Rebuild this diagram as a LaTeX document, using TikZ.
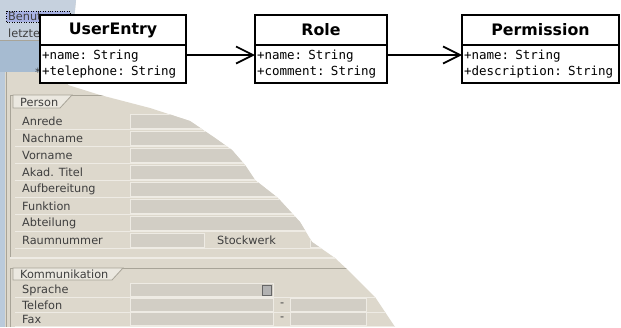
\documentclass[tikz,border=0pt]{standalone}
\usepackage{fontspec}
\usepackage{xcolor}
\usepackage{tikz}
\usetikzlibrary{arrows.meta, calc, positioning}
\newfontfamily\umlfont{DejaVu Sans}
\newfontfamily\attrfont{DejaVu Sans Mono}
\newfontfamily\formfont{DejaVu Sans}
\definecolor{formBeige}{HTML}{DDD8CC}
\definecolor{fieldGray}{HTML}{D2CEC5}
\definecolor{fieldEdge}{HTML}{EEEBE4}
\definecolor{panelLine}{HTML}{A8A498}
\definecolor{topBlue}{HTML}{C6D1DE}
\definecolor{midBlue}{HTML}{A6BBD1}
\definecolor{sideBlue}{HTML}{BACADB}
\definecolor{labelText}{HTML}{3E3E3E}
\tikzset{
  classname/.style={draw, line width=1.7pt, fill=white, minimum height=30pt,
    inner sep=0pt, outer sep=0pt, font=\umlfont\bfseries\fontsize{15.8}{18}\selectfont},
  classattr/.style={draw, line width=1.7pt, fill=white, minimum height=38pt,
    inner xsep=2pt, inner ysep=0pt, outer sep=0pt, align=left,
    font=\attrfont\fontsize{12.5}{15.5}\selectfont},
  assoc/.style={line width=1.7pt, -{Straight Barb[length=17pt, width=17pt, line width=1.7pt]}},
  formlabel/.style={anchor=west, inner sep=0pt, text=labelText, font=\formfont\fontsize{11.3}{12}\selectfont},
  field/.style={fill=fieldGray, draw=fieldEdge, line width=1pt},
  rowline/.style={draw=fieldEdge, line width=1.2pt},
  panelline/.style={draw=panelLine, line width=0.8pt}
}

\begin{document}
\begin{tikzpicture}[x=1pt, y=-1pt]
  \useasboundingbox[fill=white] (0,0) rectangle (621,327);

  % torn screenshot
  \begin{scope}
    \clip (0,0) -- (76,0) -- (72,40) -- (68,85) -- (100,95) -- (150,108) -- (190,121)
      -- (215,138) -- (232,150) -- (245,165) -- (255,180) -- (278,198) -- (300,222)
      -- (312,242) -- (335,258) -- (350,272) -- (375,297) -- (395,327) -- (0,327) -- cycle;
    \fill[formBeige] (0,0) rectangle (621,327);
    \fill[topBlue] (0,0) rectangle (621,40);
    \fill[midBlue] (0,40) rectangle (621,72);
    \fill[sideBlue] (0,72) rectangle (5,327);
    \draw[panelline] (6,72) -- (6,327);
    \draw[panelline] (0,40) -- (621,40);

    \draw[dotted, fill=topBlue!85!blue] (6,11) rectangle (70,22);
    \node[formlabel] (benut) at (8,16.5) {Benut};
    \node[formlabel] (letzte) at (8,33) {letzte};
    \node[formlabel] (star) at (35,72) {*};

    % Person
    \draw[panelline] (10,258) -- (10,95) -- (621,95);
    \draw[panelline, fill=formBeige!60!white] (13,108) -- (13,95) -- (72,95) -- (60,108) -- cycle;
    \node[formlabel] (person) at (20,102) {Person};
    \foreach \y/\lbl in {121/Anrede, 138/Nachname, 155/Vorname, 172/Akad. Titel,
        189/Aufbereitung, 206/Funktion, 223/Abteilung} {
      \draw[rowline] (15,\y+8.5) -- (621,\y+8.5);
      \draw[field] (130,\y-7) rectangle (630,\y+7);
      \node[formlabel] (lbl\y) at (22,\y) {\lbl};
    }
    \draw[rowline] (15,248.5) -- (621,248.5);
    \draw[field] (130,233) rectangle (204,247);
    \draw[field] (310,233) rectangle (630,247);
    \node[formlabel] (raum) at (22,240) {Raumnummer};
    \node[formlabel] (stock) at (217,240) {Stockwerk};
    \draw[rowline] (10,258) -- (621,258);

    % Kommunikation
    \draw[panelline] (10,327) -- (10,268) -- (621,268);
    \draw[panelline, fill=formBeige!60!white] (13,280) -- (13,268) -- (123,268) -- (112,280) -- cycle;
    \node[formlabel] (komm) at (20,274) {Kommunikation};
    \foreach \y/\lbl in {290/Sprache, 305/Telefon, 319/Fax} {
      \draw[rowline] (15,\y+7.5) -- (621,\y+7.5);
      \draw[field] (130,\y-6.5) rectangle (273,\y+6.5);
      \node[formlabel] (lbl\y) at (22,\y) {\lbl};
    }
    \draw[fill=gray!60, draw=gray!80!black, line width=0.5pt] (262,285) rectangle (271,295);
    \foreach \y in {305, 319} {
      \node[formlabel] (dash\y) at (280,\y) {-};
      \draw[field] (290,\y-6.5) rectangle (366,\y+6.5);
    }
  \end{scope}

  % classes
  \node[classname, minimum width=146pt] (userentry) at (113,30) {UserEntry};
  \node[classattr, text width=142pt, below=0pt of userentry] (userentryattr)
    {+name: String\\+telephone: String};

  \node[classname, minimum width=132pt] (role) at (321,30) {Role};
  \node[classattr, text width=128pt, below=0pt of role] (roleattr)
    {+name: String\\+comment: String};

  \node[classname, minimum width=157pt] (permission) at (540.5,30) {Permission};
  \node[classattr, text width=153pt, below=0pt of permission] (permissionattr)
    {+name: String\\+description: String};

  \draw[assoc] ([yshift=-10pt]userentryattr.north east) -- ([yshift=-10pt]roleattr.north west);
  \draw[assoc] ([yshift=-10pt]roleattr.north east) -- ([yshift=-10pt]permissionattr.north west);

\end{tikzpicture}
\end{document}
